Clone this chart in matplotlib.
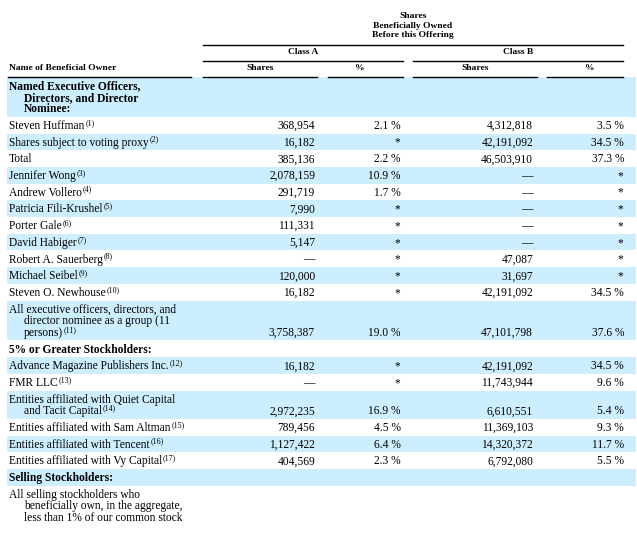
import matplotlib.pyplot as plt

plt.rcParams['font.family'] = ['Liberation Serif', 'DejaVu Serif']

# table data
owners = ["Named Executive Officers,\nDirectors, and Director\nNominee:",
          "Steven Huffman", "Shares subject to voting proxy", "Total",
          "Jennifer Wong", "Andrew Vollero", "Patricia Fili-Krushel", "Porter Gale",
          "David Habiger", "Robert A. Sauerberg", "Michael Seibel", "Steven O. Newhouse",
          "All executive officers, directors, and\ndirector nominee as a group (11\npersons)",
          "5% or Greater Stockholders:",
          "Advance Magazine Publishers Inc.", "FMR LLC",
          "Entities affiliated with Quiet Capital\nand Tacit Capital",
          "Entities affiliated with Sam Altman", "Entities affiliated with Tencent",
          "Entities affiliated with Vy Capital", "Selling Stockholders:",
          "All selling stockholders who\nbeneficially own, in the aggregate,\nless than 1% of our common stock"]
notes = ["", "1", "2", "", "3", "4", "5", "6", "7", "8", "9", "10", "11", "",
         "12", "13", "14", "15", "16", "17", "", ""]
headings = [0, 13, 20]
a_shares = ["", "368,954", "16,182", "385,136", "2,078,159", "291,719", "7,990", "111,331",
            "5,147", "—", "120,000", "16,182", "3,758,387", "", "16,182", "—",
            "2,972,235", "789,456", "1,127,422", "404,569", "", ""]
a_pct = ["", "2.1", "*", "2.2", "10.9", "1.7", "*", "*", "*", "*", "*", "*", "19.0", "",
         "*", "*", "16.9", "4.5", "6.4", "2.3", "", ""]
b_shares = ["", "4,312,818", "42,191,092", "46,503,910", "—", "—", "—", "—", "—",
            "47,087", "31,697", "42,191,092", "47,101,798", "", "42,191,092", "11,743,944",
            "6,610,551", "11,369,103", "14,320,372", "6,792,080", "", ""]
b_pct = ["", "3.5", "34.5", "37.3", "*", "*", "*", "*", "*", "*", "*", "34.5", "37.6", "",
         "34.5", "9.6", "5.4", "9.3", "11.7", "5.5", "", ""]

fig = plt.figure(figsize=(6.37, 5.37), dpi=100)
ax = fig.add_axes([0, 0, 1, 1])
ax.set_xlim(0, 637)
ax.set_ylim(537, 0)
ax.axis('off')
r = fig.canvas.get_renderer()

blue = '#cceeff'
fs = 8.3
hfs = 6.8

# header
for i, s in enumerate(["Shares", "Beneficially Owned", "Before this Offering"]):
    ax.text(413, 16 + 9.6 * i, s, ha='center', va='center', fontsize=hfs, fontweight='bold')
ax.plot([203, 623], [44.5, 44.5], color='black', lw=1.0)
ax.text(303, 52.5, "Class A", ha='center', va='center', fontsize=hfs, fontweight='bold')
ax.text(518, 52.5, "Class B", ha='center', va='center', fontsize=hfs, fontweight='bold')
ax.plot([203, 403], [60.5, 60.5], color='black', lw=1.0)
ax.plot([413, 623], [60.5, 60.5], color='black', lw=1.0)
ax.text(9, 68.5, "Name of Beneficial Owner", ha='left', va='center', fontsize=hfs, fontweight='bold')
ax.text(260, 68.5, "Shares", ha='center', va='center', fontsize=hfs, fontweight='bold')
ax.text(360, 68.5, "%", ha='center', va='center', fontsize=hfs, fontweight='bold')
ax.text(475, 68.5, "Shares", ha='center', va='center', fontsize=hfs, fontweight='bold')
ax.text(590, 68.5, "%", ha='center', va='center', fontsize=hfs, fontweight='bold')
for x0, x1 in [(8, 191), (203, 317), (328, 403), (413, 537), (547, 623)]:
    ax.plot([x0, x1], [76.5, 76.5], color='black', lw=1.0)

# rows
top = 77.0
lh = 11.6
for i, name in enumerate(owners):
    lines = name.split("\n")
    h = 5.1 + lh * len(lines)
    if i % 2 == 0:
        ax.add_patch(plt.Rectangle((7, top), 629, h, color=blue, lw=0))
    wt = 'bold' if i in headings else 'normal'
    for j, ln in enumerate(lines):
        yb = top + 2.5 + lh * (j + 0.5) + 3.8
        x = 9 if j == 0 else 24
        t = ax.text(x, yb, ln, ha='left', va='baseline', fontsize=fs, fontweight=wt)
        if j == len(lines) - 1 and notes[i]:
            bb = t.get_window_extent(r)
            ax.text(bb.x1 + 0.8, yb - 4.2, "(" + notes[i] + ")", ha='left', va='baseline',
                    fontsize=5.8)
    yb = top + 2.5 + lh * (len(lines) - 0.5) + 3.8
    if a_shares[i]:
        ax.text(315, yb, a_shares[i], ha='right', va='baseline', fontsize=fs)
    if b_shares[i]:
        ax.text(533, yb, b_shares[i], ha='right', va='baseline', fontsize=fs)
    for val, xr in [(a_pct[i], 401), (b_pct[i], 624)]:
        if val == "*":
            ax.text(xr - 1, yb, "*", ha='right', va='baseline', fontsize=fs)
        elif val:
            ax.text(xr, yb, val + " %", ha='right', va='baseline', fontsize=fs)
    top += h

fig.savefig("out.png", dpi=100)
